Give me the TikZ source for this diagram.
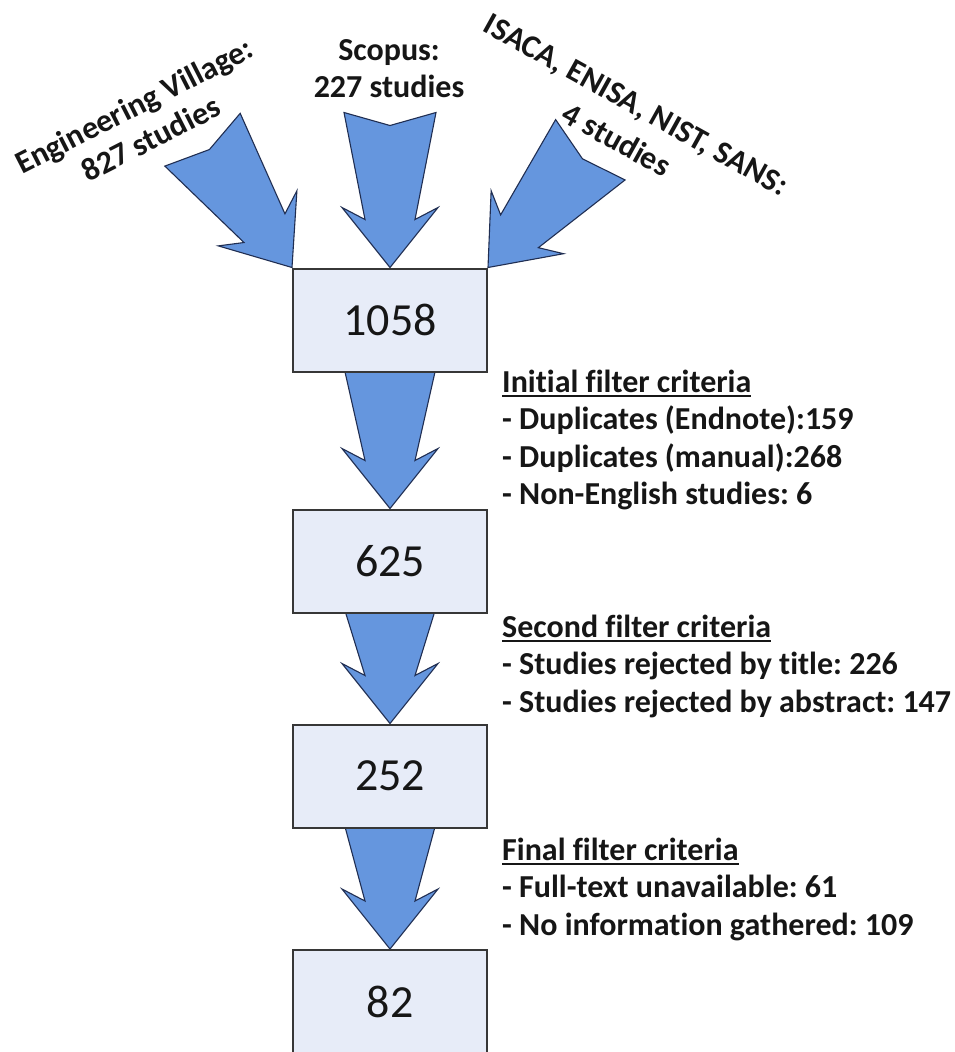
\documentclass[tikz,border=0pt]{standalone}
\usepackage{fontspec}
\setmainfont{Carlito}[Ligatures=NoCommon]
\usetikzlibrary{backgrounds}
\frenchspacing

\definecolor{arrowfill}{RGB}{101,150,222}
\definecolor{arrowline}{RGB}{32,46,82}
\definecolor{boxfill}{RGB}{231,236,248}
\definecolor{boxline}{RGB}{55,55,55}
\definecolor{ink}{RGB}{22,22,22}

% underlined heading with a rule sitting just below the baseline
\newcommand\critline[1]{\setbox0\hbox{#1}\leavevmode\rlap{\rule[-5pt]{\wd0}{2pt}}\box0}

% broad block arrow: tip point, rotation, length, depth of the tail notch
\newcommand\flowarrow[4]{%
  \begin{scope}[shift={(#1)}, rotate=#2]
    \draw[arrowbody] (0,0) -- (-48,-60) -- (-25,-48) -- (-46,-#3) -- (0,-#3+#4)
      -- (46,-#3) -- (25,-48) -- (48,-60) -- cycle;
  \end{scope}}

\tikzset{
  arrowbody/.style={fill=arrowfill, draw=arrowline, line width=1.1pt, line join=miter},
  countbox/.style={draw=boxline, line width=2pt, fill=boxfill, minimum width=194pt,
    minimum height=103pt, inner sep=0pt, text=ink, font=\fontsize{46}{55}\selectfont},
  lbl/.style={inner sep=0pt, text=ink, font=\fontsize{32}{37}\selectfont\bfseries},
}

\begin{document}
\begin{tikzpicture}[x=1pt, y=-1pt]
  \useasboundingbox (0,0) rectangle (955,1052);

  % count boxes
  \node[countbox] (b1058) at (390,320) {1058};
  \node[countbox] (b625)  at (390,561) {625};
  \node[countbox] (b252)  at (390,776) {252};
  \node[countbox, minimum height=104pt] (b82) at (390,1002) {82};

  % arrows, kept behind the boxes
  \begin{scope}[on background layer]
    \flowarrow{b1058.north west}{35}{156}{12}
    \flowarrow{b1058.north}{0}{155}{13}
    \flowarrow{b1058.north east}{-41}{156}{12}
    \flowarrow{b625.north}{0}{141}{0}
    \flowarrow{b252.north}{0}{116}{0}
    \flowarrow{b82.north}{0}{126}{0}
  \end{scope}

  % sources
  \begin{scope}[shift={(139,115.4)}, rotate=27, transform shape]
    \node[lbl, anchor=base] (ev1) at (0,0) {Engineering Village:};
    \node[lbl, anchor=base] (ev2) at (0,37) {827 studies};
  \end{scope}
  \node[lbl, anchor=base] (sc1) at (389,60) {Scopus:};
  \node[lbl, anchor=base] (sc2) at (389,97) {227 studies};
  \begin{scope}[shift={(630,116)}, rotate=-29, transform shape]
    \node[lbl, anchor=base] (gr1) at (0,-2.5) {ISACA, ENISA, NIST, SANS:};
    \node[lbl, anchor=base] (gr2) at (0,38) {4 studies};
  \end{scope}

  % filter criteria
  \node[lbl, anchor=base west] (fa0) at (502,392)   {\critline{Initial filter criteria}};
  \node[lbl, anchor=base west] (fa1) at (502,429.5) {- Duplicates (Endnote):159};
  \node[lbl, anchor=base west] (fa2) at (502,467)   {- Duplicates (manual):268};
  \node[lbl, anchor=base west] (fa3) at (502,504.5) {- Non-English studies: 6};

  \node[lbl, anchor=base west] (fb0) at (502,637)   {\critline{Second filter criteria}};
  \node[lbl, anchor=base west] (fb1) at (502,674.5) {- Studies rejected by title: 226};
  \node[lbl, anchor=base west] (fb2) at (502,712)   {- Studies rejected by abstract: 147};

  \node[lbl, anchor=base west] (fc0) at (502,860)   {\critline{Final filter criteria}};
  \node[lbl, anchor=base west] (fc1) at (502,897.5) {- Full-text unavailable: 61};
  \node[lbl, anchor=base west] (fc2) at (502,935)   {- No information gathered: 109};
\end{tikzpicture}
\end{document}
